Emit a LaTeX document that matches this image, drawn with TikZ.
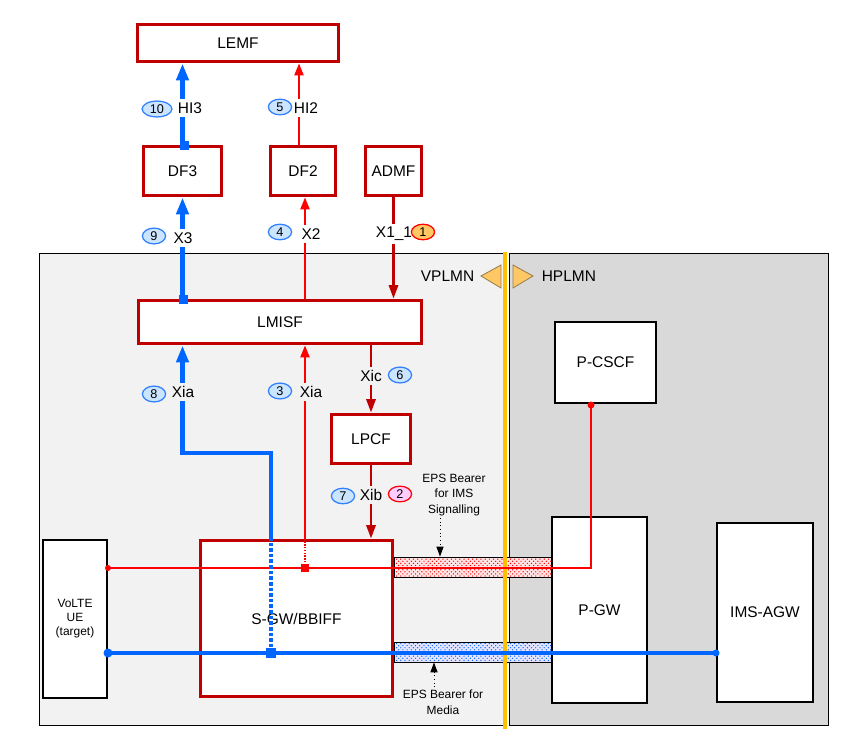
\documentclass[tikz,border=0pt]{standalone}
\usepackage{fontspec}
\setmainfont{Liberation Sans}
\usetikzlibrary{arrows.meta,patterns,shapes.geometric}
\definecolor{boxred}{RGB}{192,0,0}
\definecolor{sigred}{RGB}{255,0,0}
\definecolor{medblue}{RGB}{0,102,255}
\definecolor{vbg}{RGB}{242,242,242}
\definecolor{hbg}{RGB}{217,217,217}
\definecolor{plmnline}{RGB}{255,192,0}
\definecolor{tagfill}{RGB}{204,229,255}
\definecolor{tagline}{RGB}{51,128,255}
\definecolor{tagorange}{RGB}{255,200,100}
\definecolor{tagpink}{RGB}{255,204,255}
\definecolor{triline}{RGB}{150,125,80}
\begin{document}
\begin{tikzpicture}[x=0.025cm, y=-0.025cm,
        sz/.style 2 args={minimum width=#1*0.025cm, minimum height=#2*0.025cm, inner sep=0pt},
        lf/.style={draw=boxred, line width=2.8pt, fill=white, font=\fontsize{11}{13}\selectfont},
        nf/.style={draw=black, line width=1.5pt, fill=white, font=\fontsize{11}{13}\selectfont},
        small/.style={font=\fontsize{8.5}{11}\selectfont, align=center},
        ifc/.style={font=\fontsize{11}{13}\selectfont, inner sep=2.5pt},
        tag/.style={ellipse, draw=tagline, fill=tagfill, line width=0.9pt, font=\fontsize{9}{10}\selectfont,
            inner xsep=2.5pt, inner ysep=0.8pt, minimum width=16.5pt, minimum height=10.5pt},
        bx/.style={draw=medblue, line width=3pt, -{Triangle[length=12pt,width=8.5pt]}},
        rx/.style={draw=sigred, line width=1.4pt, -{Triangle[length=8.5pt,width=6.5pt]}},
        dx/.style={draw=boxred, line width=1.8pt, -{Triangle[length=9.5pt,width=6.5pt]}},
        bsq/.style={rectangle, fill=medblue, inner sep=0pt, minimum size=#1*0.025cm},
        rsq/.style={rectangle, fill=sigred, inner sep=0pt, minimum size=8*0.025cm},
        bdot/.style={circle, fill=medblue, inner sep=0pt, minimum size=#1*0.025cm},
        rdot/.style={circle, fill=sigred, inner sep=0pt, minimum size=#1*0.025cm},
        bearer/.style={draw=black, line width=0.6pt, sz={157}{20}},
        note/.style={draw=black, line width=0.6pt, dotted, -{Triangle[length=7pt,width=5pt]}}]
        \useasboundingbox (0,0) rectangle (844,749);
        \draw[line width=0.7pt, fill=vbg] (39,253) rectangle (503,725);
        \draw[line width=0.7pt, fill=hbg] (509,253) rectangle (828,725);

        \draw (238,43) node[lf, sz={201}{37}] (lemf) {LEMF};
        \draw (182.5,171) node[lf, sz={78}{49}] (df3) {DF3};
        \draw (303,171) node[lf, sz={65}{49}] (df2) {DF2};
        \draw (393.5,171) node[lf, sz={56}{49}] (admf) {ADMF};
        \draw (280,322) node[lf, sz={283}{43}] (lmisf) {LMISF};
        \draw (371,439) node[lf, sz={79}{49}] (lpcf) {LPCF};
        \draw (296.5,618.5) node[lf, sz={192}{156}] (sgw) {S-GW/BBIFF};
        \draw (75,619) node[nf, sz={64}{158}, small, font=\fontsize{8.5}{10}\selectfont] (ue) {VoLTE\\UE\\(target)};
        \draw (605.5,362.5) node[nf, sz={101}{81}] (pcscf) {P-CSCF};
        \draw (599.5,610) node[nf, sz={95}{186}] (pgw) {P-GW};
        \draw (765,612.5) node[nf, sz={96}{179}] (agw) {IMS-AGW};

        \draw (472.5,567) node[bearer, preaction={fill=red!10}, pattern=crosshatch dots, pattern color=sigred] (sigbearer) {};
        \draw (472.5,652) node[bearer, preaction={fill=blue!10}, pattern=crosshatch dots, pattern color=medblue] (medbearer) {};
        \draw[plmnline, line width=2.6pt] (505,252) -- (505,729);

        \draw (478,276) node[anchor=east, ifc] (vplmn) {VPLMN};
        \draw (538,276) node[anchor=west, ifc] (hplmn) {HPLMN};
        \draw[triline, fill=tagorange, line width=0.6pt] (481,276) -- (501,265) -- (501,288) -- cycle;
        \draw[triline, fill=tagorange, line width=0.6pt] (533,276) -- (513,265) -- (513,288) -- cycle;

        \coordinate (tap2) at (305,568);
        \coordinate (tap3) at (271,653);
        \coordinate (xiaknee) at (271,453);
        \coordinate (uesig) at (108,568);
        \coordinate (pcscfsig) at (591,405);
        \coordinate (uemed) at (108,653);
        \coordinate (agwmed) at (716,653);

        \draw[sigred, line width=1.4pt] (uesig) -| (pcscfsig);
        \draw[medblue, line width=3pt] (uemed) -- (agwmed);

        \draw[medblue, line width=3pt, dash pattern=on 2.5pt off 1.5pt] (tap3) -- (tap3 |- sgw.north);
        \draw[bx] (tap3 |- sgw.north) -- (xiaknee) -| (df3 |- lmisf.south);
        \draw[sigred, line width=1.4pt, dash pattern=on 1pt off 1pt] (tap2) -- (tap2 |- sgw.north);
        \draw[rx] (tap2 |- sgw.north) -- (tap2 |- lmisf.south);
        \draw[dx] (lpcf.north |- lmisf.south) -- (lpcf.north);
        \draw[dx] (lpcf.south) -- (lpcf.south |- sgw.north);
        \draw[dx] (admf.south) -- (admf.south |- lmisf.north);
        \draw[rx] (tap2 |- lmisf.north) -- (tap2 |- df2.south);
        \draw[bx] (df3 |- lmisf.north) -- (df3.south);
        \draw[bx] (df3.north) -- (df3.north |- lemf.south);
        \draw[rx] ([xshift=-4*0.025cm]df2.north) -- ([xshift=-4*0.025cm]df2.north |- lemf.south);

        \draw (183,299) node[bsq=9] (sq1) {};
        \draw (184,146) node[bsq=9] (sq2) {};
        \draw (tap2) node[rsq] (sq3) {};
        \draw (tap3) node[bsq=10] (sq4) {};
        \draw (uesig) node[rdot=6] (dot1) {};
        \draw (pcscfsig) node[rdot=7] (dot2) {};
        \draw (uemed) node[bdot=9] (dot3) {};
        \draw (agwmed) node[bdot=7] (dot4) {};

        \draw (190,108) node[ifc, fill=white] (hi3) {HI3};
        \draw (306,108) node[ifc, fill=white] (hi2) {HI2};
        \draw (183,238) node[ifc, fill=white] (x3) {X3};
        \draw (311,234) node[ifc, fill=white] (x2) {X2};
        \draw (394,234) node[ifc, fill=white] (x11) {X1\_1};
        \draw (183,392) node[ifc, fill=vbg] (xia8) {Xia};
        \draw (311,392) node[ifc, fill=vbg] (xia3) {Xia};
        \draw (371,376) node[ifc, fill=vbg] (xic) {Xic};
        \draw (371,495) node[ifc, fill=vbg] (xib) {Xib};

        \draw (157,109) node[tag] (t10) {10};
        \draw (280,107) node[tag] (t5) {5};
        \draw (154,236) node[tag] (t9) {9};
        \draw (280,232) node[tag] (t4) {4};
        \draw (423,232) node[tag, draw=sigred, fill=tagorange] (t1) {1};
        \draw (154,394) node[tag] (t8) {8};
        \draw (280,391) node[tag] (t3) {3};
        \draw (400,375) node[tag] (t6) {6};
        \draw (343,496) node[tag] (t7) {7};
        \draw (400,494) node[tag, draw=sigred, fill=tagpink] (t2) {2};

        \draw (454,495) node[small] (sigtxt) {EPS Bearer\\for IMS\\Signalling};
        \draw (443,702) node[small] (medtxt) {EPS Bearer for\\Media};
        \coordinate (sigfrom) at (440,518);
        \coordinate (medfrom) at (434,687);
        \draw[note] (sigfrom) -- (sigfrom |- sigbearer.north);
        \draw[note] (medfrom) -- (medfrom |- medbearer.south);
    \end{tikzpicture}
\end{document}
